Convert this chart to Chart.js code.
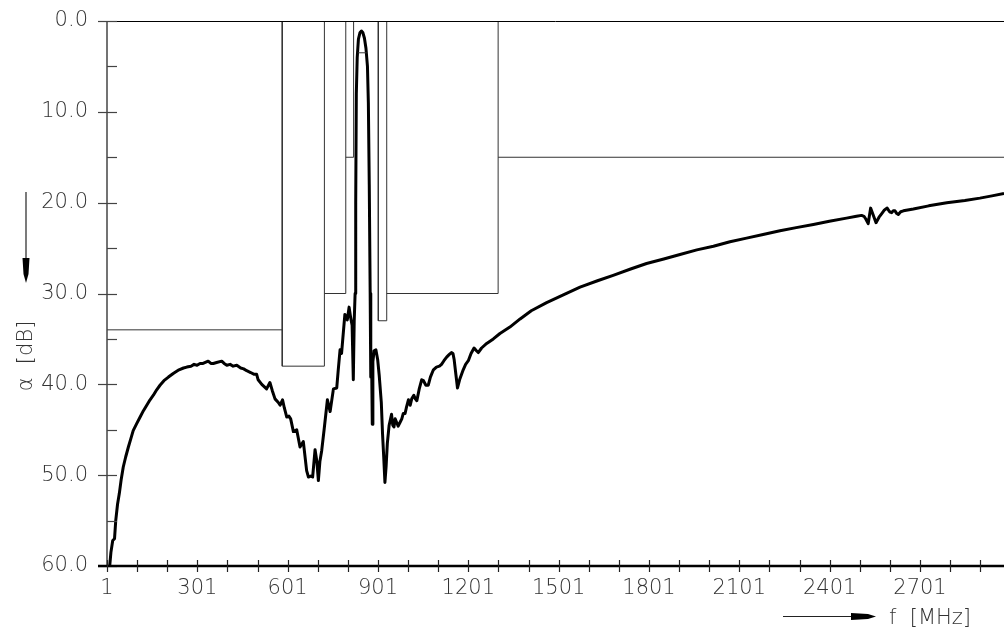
<!DOCTYPE html>
<html>
<head>
<meta charset="utf-8">
<script src="https://cdn.jsdelivr.net/npm/chart.js@4.4.1/dist/chart.umd.min.js"></script>
<style>
  html, body { margin: 0; padding: 0; background: #fff; }
  #wrap { width: 1004px; height: 633px; position: relative; }
</style>
</head>
<body>
<div id="wrap"><canvas id="myChart"></canvas></div>
<script>
// measured attenuation curve, f in MHz / alpha in dB
const freqMHz = [10, 14, 20, 26, 30, 36, 42, 48, 55, 63, 72, 80, 88, 100, 111, 122, 133, 144, 155, 166, 177, 190, 205, 221, 240, 255, 266, 280, 290, 300, 310, 320, 337, 346, 354, 365, 382, 390, 399, 410, 420, 432, 445, 455, 465, 478, 490, 498, 503, 515, 531, 542, 550, 559, 570, 576, 584, 590, 598, 605, 611, 620, 631, 642, 653, 664, 670, 678, 684, 692, 698, 703, 708, 714, 722, 733, 742, 753, 764, 769, 775, 780, 791, 799, 805, 810, 815, 819, 822, 825, 827, 829, 832, 836, 841, 846, 851, 856, 861, 866, 869, 872, 875, 877, 880, 882, 884, 888, 894, 900, 905, 912, 916, 920, 924, 928, 932, 938, 946, 950, 954, 958, 963, 968, 974, 980, 985, 991, 995, 1002, 1008, 1013, 1020, 1025, 1030, 1038, 1046, 1052, 1060, 1068, 1075, 1085, 1095, 1105, 1112, 1120, 1129, 1138, 1145, 1150, 1154, 1160, 1165, 1172, 1184, 1192, 1201, 1210, 1220, 1228, 1234, 1245, 1262, 1284, 1306, 1339, 1373, 1410, 1461, 1520, 1572, 1630, 1682, 1740, 1793, 1850, 1904, 1960, 2015, 2070, 2125, 2180, 2236, 2290, 2347, 2400, 2457, 2490, 2507, 2515, 2521, 2529, 2537, 2545, 2555, 2565, 2574, 2583, 2592, 2600, 2607, 2612, 2618, 2624, 2629, 2637, 2646, 2679, 2730, 2790, 2850, 2900, 2940, 2980];
const attenDB = [60, 58.5, 57.2, 57, 55, 53.2, 52, 50.5, 49.1, 48, 46.9, 46, 45.1, 44.3, 43.6, 42.9, 42.3, 41.7, 41.2, 40.6, 40.1, 39.6, 39.2, 38.8, 38.4, 38.2, 38.1, 38.0, 37.8, 37.9, 37.7, 37.7, 37.45, 37.7, 37.7, 37.6, 37.45, 37.7, 37.9, 37.8, 38.0, 37.9, 38.2, 38.3, 38.5, 38.7, 38.9, 38.9, 39.5, 40.0, 40.5, 39.8, 40.7, 41.6, 42.0, 42.3, 41.7, 42.6, 43.6, 43.5, 43.8, 45.2, 45.0, 46.9, 46.3, 49.5, 50.2, 50.1, 50.2, 47.2, 48.5, 50.6, 48.5, 47.3, 45, 41.7, 43, 40.5, 40.4, 38.4, 36.2, 36.6, 32.3, 32.9, 31.5, 32.6, 33.5, 39.5, 33, 30, 20, 8, 4, 2, 1.3, 1.1, 1.3, 1.9, 3, 5, 9, 18, 30, 39.2, 38, 44.4, 37.5, 36.3, 36.2, 37.3, 39, 42, 45.4, 48, 50.8, 49, 46.5, 44.5, 43.3, 44.5, 44.7, 43.8, 44.2, 44.6, 44.2, 43.8, 43.2, 43.2, 42.6, 41.7, 42.3, 41.6, 41.2, 41.6, 41.8, 40.5, 39.5, 39.6, 40.1, 40.1, 39.2, 38.4, 38.1, 38.0, 37.8, 37.4, 37.0, 36.7, 36.5, 36.6, 37.3, 39.0, 40.4, 39.5, 38.4, 37.8, 37.4, 36.6, 36.0, 36.3, 36.5, 36.0, 35.5, 35.0, 34.4, 33.7, 32.8, 31.9, 31.0, 30.1, 29.3, 28.6, 28.0, 27.3, 26.7, 26.2, 25.7, 25.2, 24.8, 24.3, 23.9, 23.5, 23.1, 22.75, 22.4, 22.05, 21.7, 21.5, 21.4, 21.5, 21.8, 22.3, 20.6, 21.3, 22.2, 21.6, 21.2, 20.8, 20.6, 21.0, 21.1, 20.9, 20.9, 21.2, 21.3, 21.0, 20.9, 20.7, 20.35, 20.0, 19.75, 19.5, 19.25, 19.0];

// tolerance mask, each entry one polyline of [f, dB]
const maskLines = [
  [[1, 34], [583, 34]],
  [[583, 0], [583, 38], [723, 38], [723, 0]],
  [[723, 30], [794, 30], [794, 0]],
  [[794, 15], [820, 15], [820, 0]],
  [[834, 3.5], [863, 3.5]],
  [[902, 0], [902, 33], [930, 33], [930, 0]],
  [[930, 30], [1300, 30], [1300, 0]],
  [[1300, 15], [2980, 15]]
];

const xMin = 1, xMax = 2980, xStep = 100, xLabelStep = 300;
const yMin = 0, yMax = 60, yStep = 10, yMinorStep = 5;
const xTitle = 'f  [MHz]';
const yTitle = '\u03b1  [dB]';

const FONT = "'DejaVu Sans', sans-serif";
const FSIZE = 21;

const datasets = maskLines.map(seg => ({
  data: seg.map(p => ({ x: p[0], y: p[1] })),
  borderColor: '#333',
  borderWidth: 1,
  pointRadius: 0,
  showLine: true,
  tension: 0
}));
datasets.push({
  data: freqMHz.map((f, i) => ({ x: f, y: attenDB[i] })),
  borderColor: '#000',
  borderWidth: 3,
  pointRadius: 0,
  showLine: true,
  tension: 0,
  borderJoinStyle: 'round'
});

// axes frame, tick marks, titles and arrows
const frame = {
  id: 'frame',
  afterDatasetsDraw(chart) {
    const c = chart.ctx, a = chart.chartArea;
    const xs = chart.scales.x, ys = chart.scales.y;
    c.save();
    // top line
    c.strokeStyle = '#000'; c.lineWidth = 1;
    c.beginPath(); c.moveTo(a.left, a.top + 0.5); c.lineTo(a.right, a.top + 0.5); c.stroke();
    // left axis
    c.strokeStyle = '#444'; c.lineWidth = 1.5;
    c.beginPath(); c.moveTo(a.left, a.top); c.lineTo(a.left, a.bottom); c.stroke();
    // y ticks
    c.lineWidth = 1.2;
    for (let v = yMin; v <= yMax; v += yMinorStep) {
      const y = Math.round(ys.getPixelForValue(v)) + 0.5;
      const major = v % yStep === 0;
      c.beginPath(); c.moveTo(a.left - (major ? 9 : 0), y); c.lineTo(a.left + 10, y); c.stroke();
    }
    // bottom axis
    c.strokeStyle = '#000'; c.lineWidth = 2.5;
    c.beginPath(); c.moveTo(a.left - 9, a.bottom); c.lineTo(a.right, a.bottom); c.stroke();
    c.lineWidth = 1.2; c.strokeStyle = '#222';
    for (let v = xMin; v <= xMax; v += xStep) {
      const x = Math.round(xs.getPixelForValue(v)) + 0.5;
      c.beginPath(); c.moveTo(x, a.bottom - 6); c.lineTo(x, a.bottom + 6); c.stroke();
    }
    // x title with arrow
    c.fillStyle = '#333'; c.font = '200 ' + FSIZE + 'px ' + FONT; c.textBaseline = 'alphabetic'; c.textAlign = 'left';
    c.fillText(xTitle, 889, 624);
    c.strokeStyle = '#222'; c.lineWidth = 1.2;
    c.beginPath(); c.moveTo(783, 616.5); c.lineTo(855, 616.5); c.stroke();
    c.fillStyle = '#000';
    c.beginPath(); c.moveTo(851, 613); c.lineTo(868, 614); c.lineTo(876, 616.5); c.lineTo(868, 619); c.lineTo(851, 620); c.closePath(); c.fill();
    // y title with arrow
    c.save();
    c.translate(32, 356); c.rotate(-Math.PI / 2);
    c.fillStyle = '#333'; c.textAlign = 'center';
    c.fillText(yTitle, 0, 0);
    c.restore();
    c.strokeStyle = '#222'; c.lineWidth = 1.2;
    c.beginPath(); c.moveTo(26, 192); c.lineTo(26, 262); c.stroke();
    c.fillStyle = '#000';
    c.beginPath(); c.moveTo(22.5, 258); c.lineTo(29.5, 258); c.lineTo(28.5, 274); c.lineTo(26, 283); c.lineTo(23.5, 274); c.closePath(); c.fill();
    c.restore();
  }
};

const myChart = new Chart(document.getElementById('myChart'), {
  type: 'scatter',
  data: { datasets },
  options: {
    responsive: true,
    maintainAspectRatio: false,
    animation: false,
    events: [],
    layout: { padding: { top: 21, right: 0, bottom: 0, left: 0 } },
    plugins: { legend: { display: false }, tooltip: { enabled: false } },
    scales: {
      x: {
        type: 'linear', min: xMin, max: xMax,
        grid: { display: false, drawTicks: false },
        border: { display: false },
        afterBuildTicks: s => {
          const t = [];
          for (let v = xMin; v <= xMax; v += xStep) t.push({ value: v });
          s.ticks = t;
        },
        afterFit: s => { s.height = 67; s.paddingLeft = 0; s.paddingRight = 0; },
        ticks: {
          maxRotation: 0, autoSkip: false, padding: 10,
          color: '#333', font: { family: FONT, size: FSIZE, weight: 200 },
          callback: v => ((v - xMin) % xLabelStep === 0 ? String(v) : '')
        }
      },
      y: {
        type: 'linear', min: yMin, max: yMax, reverse: true,
        grid: { display: false, drawTicks: false },
        border: { display: false },
        afterFit: s => { s.width = 107; s.paddingTop = 0; s.paddingBottom = 0; },
        ticks: {
          stepSize: yStep, padding: 19,
          color: '#333', font: { family: FONT, size: FSIZE, weight: 200 },
          callback: v => v.toFixed(1)
        }
      }
    }
  },
  plugins: [frame]
});
</script>
</body>
</html>
